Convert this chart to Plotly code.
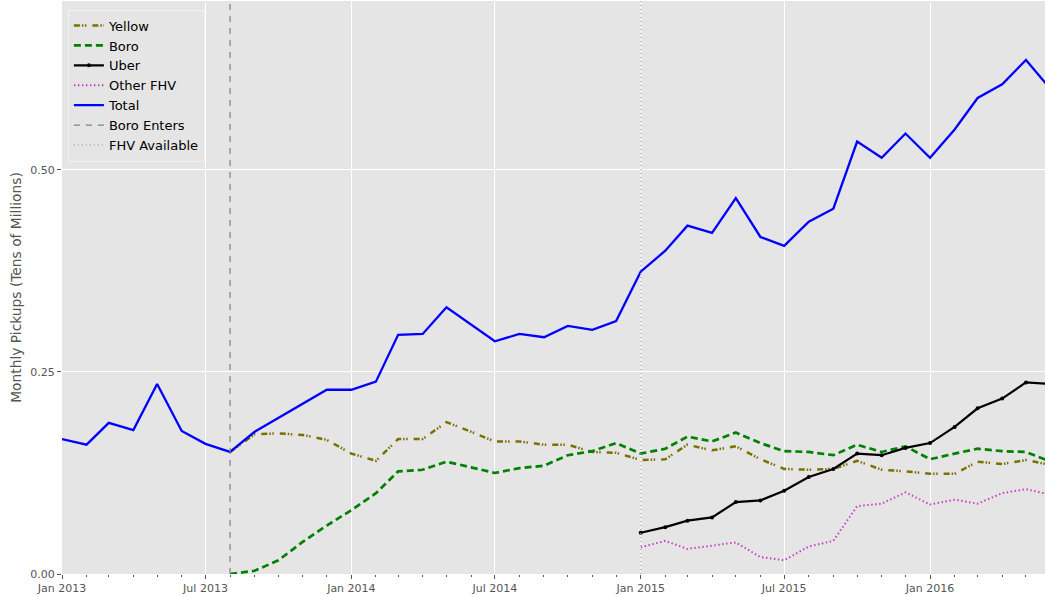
import pandas as pd
import plotly.graph_objects as go

months = pd.date_range("2013-01-01", "2016-06-01", freq="MS")

total = [0.167, 0.160, 0.187, 0.178, 0.235, 0.177, 0.161,
         0.151, 0.176, 0.193, 0.210, 0.228,
         0.228, 0.238, 0.296, 0.297, 0.330, 0.309, 0.288, 0.297, 0.293, 0.307, 0.302, 0.313,
         0.374, 0.400, 0.431, 0.422, 0.465, 0.417, 0.406, 0.436, 0.452, 0.535, 0.515, 0.545,
         0.515, 0.550, 0.589, 0.606, 0.636, 0.600]

yellow = [None] * 7 + [0.151, 0.173, 0.174, 0.172, 0.166,
          0.149, 0.140, 0.167, 0.167, 0.188, 0.176, 0.164, 0.164, 0.160, 0.160, 0.151, 0.150,
          0.141, 0.142, 0.160, 0.153, 0.158, 0.142, 0.130, 0.129, 0.130, 0.140, 0.129, 0.127,
          0.124, 0.124, 0.139, 0.136, 0.141, 0.135]

boro = [None] * 7 + [0.000, 0.004, 0.017, 0.040, 0.060,
        0.079, 0.100, 0.127, 0.129, 0.139, 0.132, 0.125, 0.131, 0.134, 0.147, 0.152, 0.162,
        0.149, 0.155, 0.170, 0.164, 0.175, 0.162, 0.152, 0.151, 0.147, 0.160, 0.151, 0.158,
        0.142, 0.149, 0.155, 0.152, 0.151, 0.139]

uber = [None] * 24 + [0.051, 0.058, 0.066, 0.070, 0.089, 0.091, 0.103, 0.120, 0.130, 0.149, 0.147, 0.156,
                      0.162, 0.182, 0.205, 0.217, 0.237, 0.235]

other_fhv = [None] * 24 + [0.033, 0.041, 0.031, 0.035, 0.039, 0.021, 0.017, 0.034, 0.041, 0.084, 0.087, 0.101,
                           0.086, 0.092, 0.087, 0.100, 0.105, 0.098]

boro_enters = "2013-08-01"
fhv_available = "2015-01-01"
y_max = 0.709
y_ticks = [0.0, 0.25, 0.5]

fig = go.Figure()
fig.add_trace(go.Scatter(x=months, y=yellow, name="Yellow", mode="lines",
                         line=dict(color="#7a7000", width=2.5, dash="6px,2px,1.5px,1.5px,1.5px,6px")))
fig.add_trace(go.Scatter(x=months, y=boro, name="Boro", mode="lines",
                         line=dict(color="#008000", width=2.7, dash="7px,4px")))
fig.add_trace(go.Scatter(x=months, y=uber, name="Uber", mode="lines+markers",
                         line=dict(color="black", width=2.2), marker=dict(size=4, color="black")))
fig.add_trace(go.Scatter(x=months, y=other_fhv, name="Other FHV", mode="lines",
                         line=dict(color="#c840c8", width=2, dash="1.5px,2.5px")))
fig.add_trace(go.Scatter(x=months, y=total, name="Total", mode="lines",
                         line=dict(color="#0000ff", width=2.3)))
fig.add_trace(go.Scatter(x=[boro_enters, boro_enters], y=[0, y_max], name="Boro Enters", mode="lines",
                         line=dict(color="#808080", width=1.2, dash="6px,6px")))
fig.add_trace(go.Scatter(x=[fhv_available, fhv_available], y=[0, y_max], name="FHV Available", mode="lines",
                         line=dict(color="#a0a0a0", width=1.2, dash="1px,3px")))

fig.update_layout(
    width=1045, height=596,
    margin=dict(l=62, r=0, t=1, b=22),
    paper_bgcolor="white", plot_bgcolor="#e5e5e5",
    font=dict(family="DejaVu Sans", color="#555555", size=11),
    showlegend=True,
    legend=dict(x=0.006, y=0.985, xanchor="left", yanchor="top",
                bgcolor="#e5e5e5", bordercolor="#f2f2f2", borderwidth=1,
                font=dict(size=13, color="black"), tracegroupgap=0),
)
fig.update_xaxes(
    range=["2013-01-01", "2016-05-25"], automargin=False,
    tick0="2013-01-01", dtick="M6", tickformat="%b %Y",
    showgrid=True, gridcolor="white", gridwidth=1,
    ticks="outside", ticklen=4, tickcolor="#555555",
    minor=dict(dtick="M1", ticks="outside", ticklen=2, tickcolor="#555555", showgrid=False),
    zeroline=False, showline=False,
    tickfont=dict(size=11, color="#555555"),
)
fig.update_yaxes(
    range=[0, y_max], automargin=False,
    tickvals=y_ticks, tickformat=".2f",
    showgrid=True, gridcolor="white", gridwidth=1,
    ticks="outside", ticklen=4, tickcolor="#555555",
    zeroline=False, showline=False,
    title=dict(text="Monthly Pickups (Tens of Millions)", font=dict(size=13.8, color="#555555"), standoff=5),
    tickfont=dict(size=11, color="#555555"),
)

fig.write_html("out.html", config={"displayModeBar": False},
               post_script="document.body.style.margin='0px';")
